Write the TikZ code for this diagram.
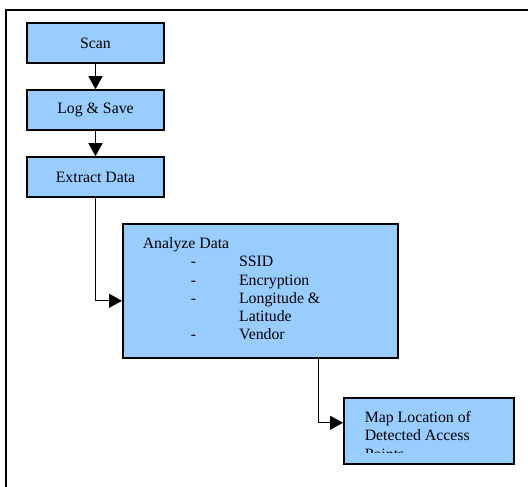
\documentclass[tikz,border=0pt]{standalone}
\usepackage{fontspec}
\setmainfont{Liberation Serif}
\usetikzlibrary{arrows.meta}
\definecolor{boxblue}{RGB}{153,204,255}
\newcommand{\apitem}[1]{\hspace*{48pt}\makebox[48.3pt][l]{-}#1}
\tikzset{
  procbox/.style={draw=black, fill=boxblue, line width=1.6pt,
    minimum width=137pt, minimum height=40pt, inner sep=0pt,
    font=\fontsize{15.8}{18.15}\selectfont},
  flow/.style={line width=1.3pt, -{Triangle[length=13pt,width=14pt]}},
}
\begin{document}
\begin{tikzpicture}[x=1pt, y=-1pt]
  \useasboundingbox (0,0) rectangle (528,487);
  % frame of the page
  \draw[line width=2pt] (6,487) -- (6,10) -- (528,10);

  % steps
  \node[procbox] (scan) at (95.5,43) {Scan};
  \node[procbox] (logsave) at (95.5,110) {Log \& Save};
  \node[procbox] (extract) at (95.5,177) {Extract Data};
  \node[procbox, anchor=north west, minimum width=275pt, minimum height=134pt,
        text height=25pt, text depth=109pt, inner xsep=20pt] (analyze) at (122,223)
    {\parbox[t]{235pt}{Analyze Data\\
      \apitem{SSID}\\
      \apitem{Encryption}\\
      \apitem{Longitude \&}\\
      \hspace*{96.3pt}Latitude\\
      \apitem{Vendor}}};
  \node[procbox, anchor=north west, minimum width=170pt, minimum height=66pt,
        text height=25pt, text depth=41pt, inner xsep=21pt] (mapap) at (343,397)
    {\parbox[t]{128pt}{\raggedright Map Location of Detected Access Points}};
  % text runs out of the box
  \fill[boxblue] ([shift={(2pt,2pt)}]mapap.south west) rectangle ([shift={(-2pt,11.8pt)}]mapap.south east);

  % arrows
  \draw[flow] (scan) -- (logsave);
  \draw[flow] (logsave) -- (extract);
  \draw[flow] (extract.south) |- ([yshift=-10pt]analyze.west);
  \draw[flow] ([xshift=58.5pt]analyze.south) |- ([yshift=8pt]mapap.west);
\end{tikzpicture}
\end{document}
